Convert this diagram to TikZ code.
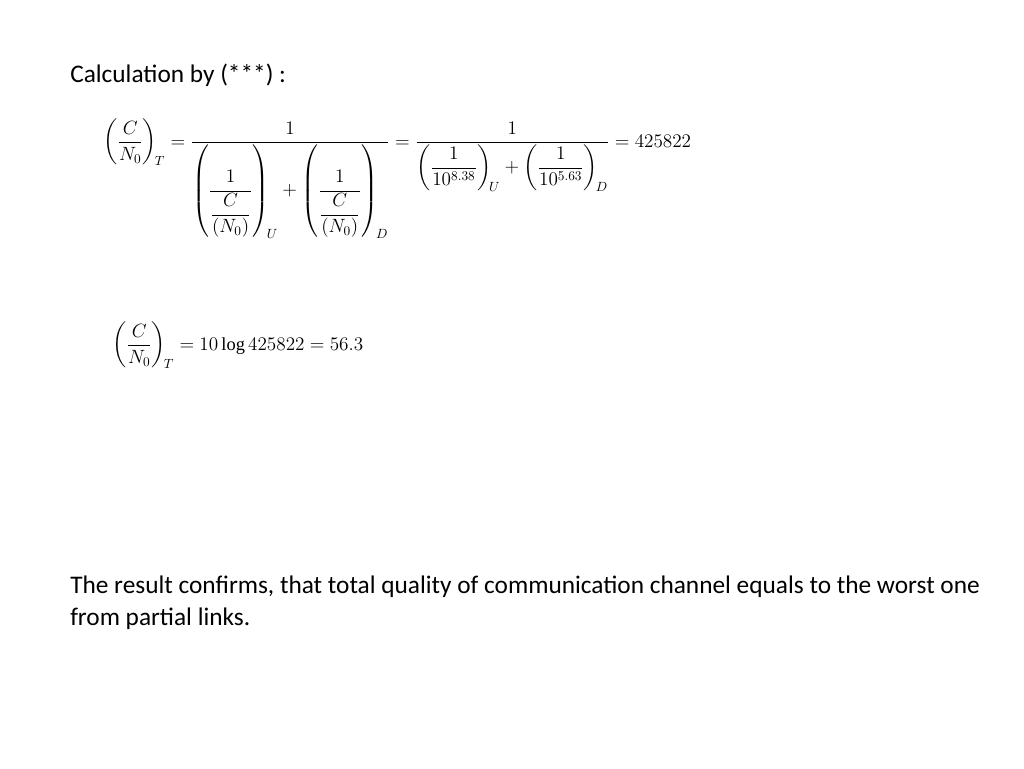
\documentclass[tikz,border=0pt]{standalone}
\usepackage{amsmath}
\usepackage{fontspec}
\setmainfont{Liberation Serif}
\newfontfamily\slidefont{Carlito}
\begin{document}
\begin{tikzpicture}[x=0.75pt,y=-0.75pt]
\useasboundingbox (0,0) rectangle (1024,768);
\tikzset{txt/.style={font=\slidefont\fontsize{19}{23}\selectfont,anchor=base west,inner sep=0pt},
eq/.style={font=\fontsize{13.8}{16}\selectfont,anchor=base west,inner sep=0pt}}
\node[txt] (t1) at (70,82) {Calculation by (***) :};
\node[eq] (e1) at (103,147) {$\displaystyle
\left(\frac{C}{N_0}\right)_{\!T}=\frac{1}{\left(\dfrac{1}{\dfrac{C}{(N_0)}}\right)_{\!U}+\left(\dfrac{1}{\dfrac{C}{(N_0)}}\right)_{\!D}}
=\frac{1}{\left(\dfrac{1}{10^{8.38}}\right)_{\!U}+\left(\dfrac{1}{10^{5.63}}\right)_{\!D}}=425822$};
\node[eq] (e2) at (112,350) {$\displaystyle\left(\frac{C}{N_0}\right)_{\!T}=10\log 425822=56.3$};
\node[txt,align=left,anchor=north west] (t2) at (70,576) {The result confirms, that total quality of communication channel equals to the worst one\\[1pt]from partial links.};
\end{tikzpicture}
\end{document}
